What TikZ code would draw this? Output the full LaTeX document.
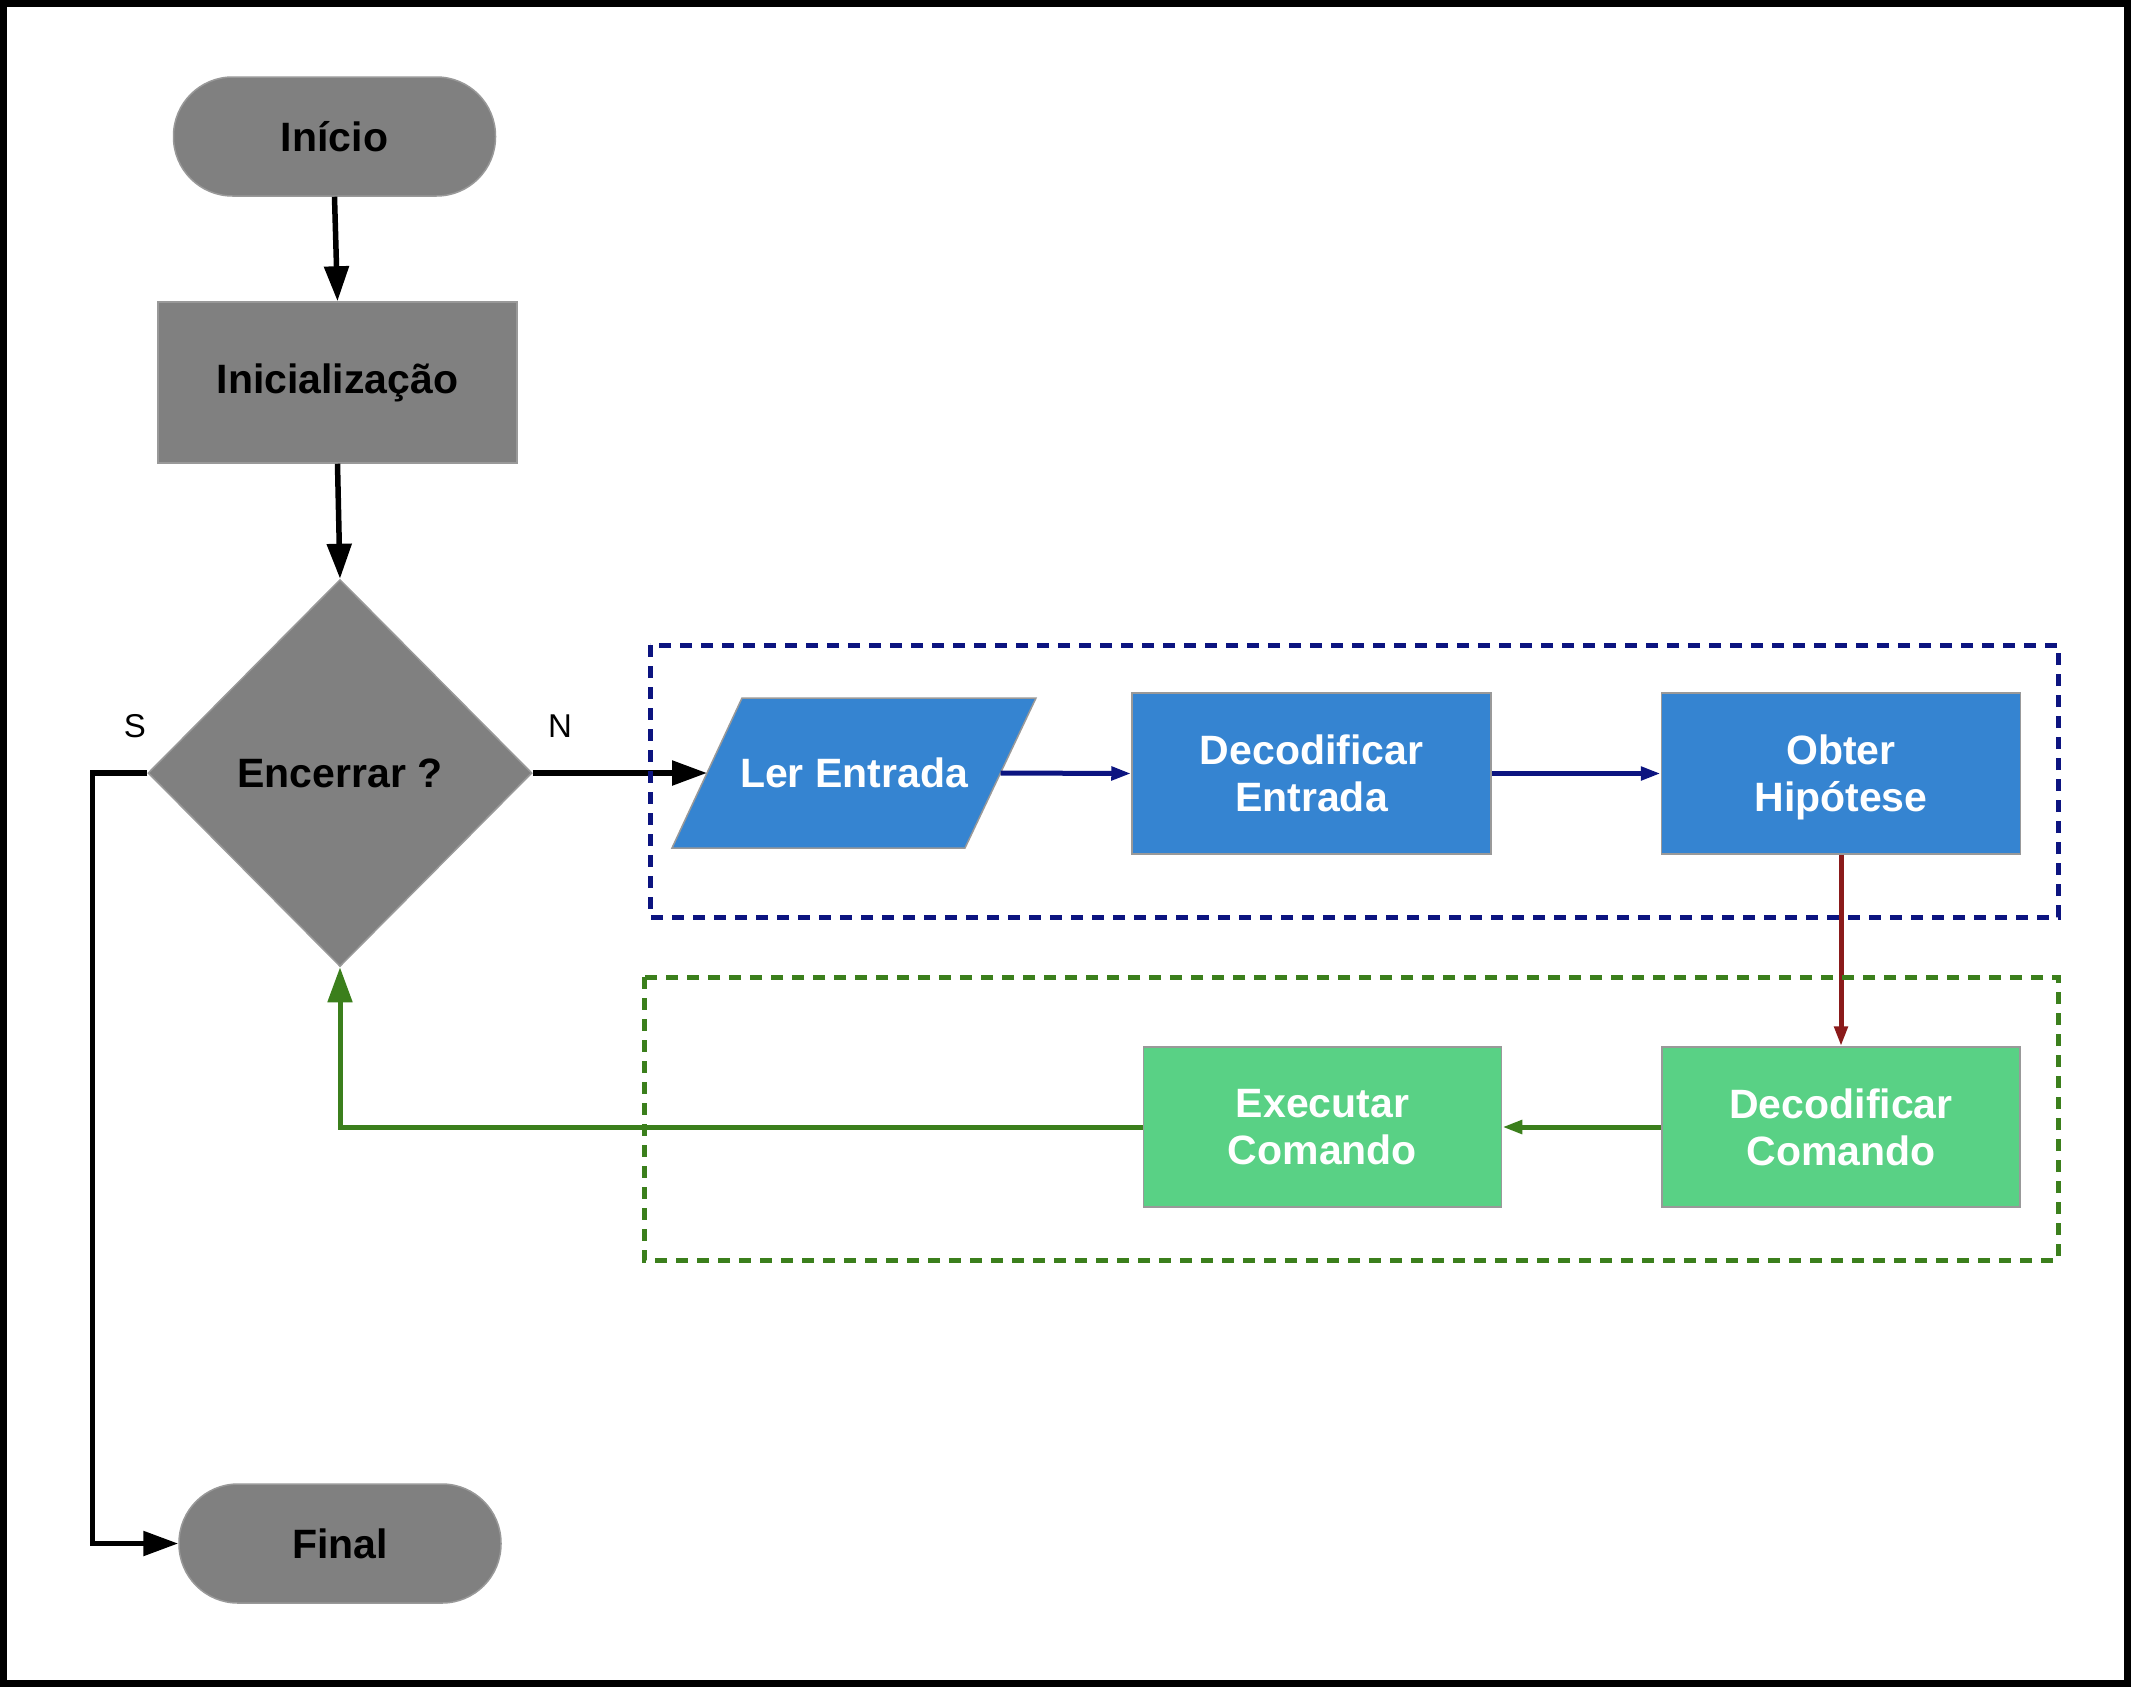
\documentclass[tikz,border=0pt]{standalone}
\usepackage{fontspec}
\setmainfont{Liberation Sans}
\usetikzlibrary{shapes.geometric,arrows.meta,calc}
\definecolor{grayfill}{HTML}{808080}
\definecolor{bluefill}{HTML}{3584D1}
\definecolor{greenfill}{HTML}{59D185}
\definecolor{navyline}{HTML}{0C1480}
\definecolor{greenline}{HTML}{3B7F1C}
\definecolor{redline}{HTML}{8A1A1A}
\definecolor{borderg}{HTML}{999999}
\begin{document}
\begin{tikzpicture}[x=1pt,y=-1pt,
  base/.style={draw=borderg, line width=1.5pt, inner sep=0pt, align=center,
    font=\fontsize{41}{47}\selectfont\bfseries},
  term/.style={base, fill=grayfill, rounded corners=59pt, text=black,
    minimum width=322pt, minimum height=119pt},
  grayproc/.style={base, fill=grayfill, text=black},
  blueproc/.style={base, fill=bluefill, text=white,
    minimum width=359pt, minimum height=161pt},
  greenproc/.style={base, fill=greenfill, text=white,
    minimum width=358pt, minimum height=160pt},
  plaintext/.style={inner sep=0pt, align=center, text=white,
    font=\fontsize{41}{47}\selectfont\bfseries},
  lbl/.style={inner sep=0pt, font=\fontsize{33}{36}\selectfont},
  blackarrow/.style={draw=black, line width=5.5pt,
    -{Triangle[length=35pt,width=24pt]}},
  navyarrow/.style={draw=navyline, line width=5pt,
    -{Triangle[length=20pt,width=13pt]}},
  redarrow/.style={draw=redline, line width=5pt,
    -{Triangle[length=20pt,width=13pt]}},
  greenarrow/.style={draw=greenline, line width=5pt,
    -{Triangle[length=20pt,width=13pt]}},
  greenbigarrow/.style={draw=greenline, line width=5pt,
    -{Triangle[length=35pt,width=24pt]}},
  navybox/.style={draw=navyline, line width=5pt, dash pattern=on 12pt off 9pt},
  greenbox/.style={draw=greenline, line width=5pt, dash pattern=on 12pt off 9pt}
]
\useasboundingbox (0,0) rectangle (2131,1687);
\fill[white] (0,0) rectangle (2131,1687);

% nodes
\node[term] (inicio) at (334.5,136.5) {Início};
\node[grayproc, minimum width=359pt, minimum height=161pt] (init) at (337.5,382.5) {Inicialização};
\node[diamond, base, fill=grayfill, text=black, aspect=1,
  minimum width=384pt, minimum height=387pt] (dec) at (340,773) {Encerrar ?};
\node[term] (fim) at (340,1543.5) {Final};

% input parallelogram
\filldraw[fill=bluefill, draw=borderg, line width=1.5pt]
  (742,698) -- (1036,698) -- (965,848) -- (672,848) -- cycle;
\node[plaintext] (ler) at (854,773) {Ler Entrada};
\coordinate (lerW) at (707,773);
\coordinate (lerE) at (1000.5,773);

\node[blueproc] (decent) at (1311.5,773.5) {Decodificar\\Entrada};
\node[blueproc] (obter) at (1841,773.5) {Obter\\\smash{Hipótese}};
\node[greenproc] (exec) at (1322.5,1127) {Executar\\Comando};
\node[greenproc] (deccmd) at (1841,1127) {Decodificar\\Comando};

\node[lbl] (slbl) at (135,726) {S};
\node[lbl] (nlbl) at (560,726) {N};

% connectors
\draw[blackarrow] (inicio.south) -- (init.north);
\draw[blackarrow] (init.south) -- (dec.north);
\draw[blackarrow] (dec.east) -- (lerW);
\draw[blackarrow] (dec.west) -- ++(-55,0) |- (fim.west);
\draw[navyarrow] (lerE) -- (decent.west);
\draw[navyarrow] (decent.east) -- (obter.west);
\draw[redarrow] (obter.south) -- (deccmd.north);
\draw[greenarrow] (deccmd.west) -- (exec.east);
\draw[greenbigarrow] (exec.west) -| (dec.south);

% group boxes
\draw[navybox] (650,645) rectangle (2058,917);
\draw[greenbox] (644,977) rectangle (2058,1260);

% outer frame
\draw[line width=7pt] (3.5,3.5) rectangle (2127.5,1683.5);
\end{tikzpicture}
\end{document}
